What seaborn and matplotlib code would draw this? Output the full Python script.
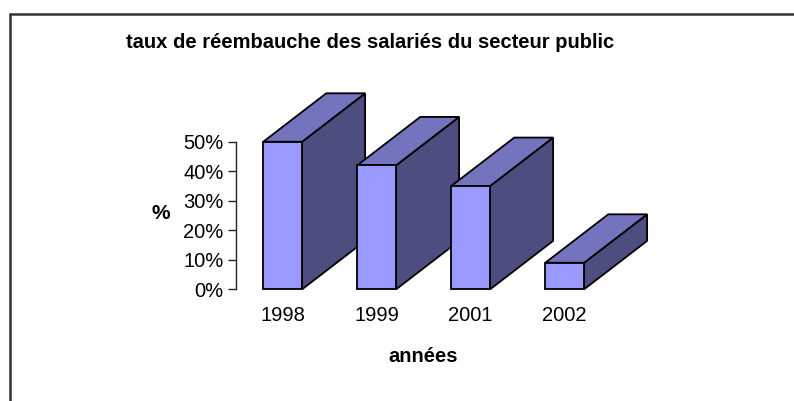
import numpy as np
import matplotlib
matplotlib.use("Agg")
import matplotlib.pyplot as plt
from matplotlib.patches import Polygon
from matplotlib.lines import Line2D
import seaborn as sns

# data
annees = ["1998", "1999", "2001", "2002"]
taux = [50, 42, 35, 9]
yticks = [0, 10, 20, 30, 40, 50]

# colours of the 3d faces
face_front = "#9999FF"
face_top = "#7474BE"
face_side = "#4D4D80"

sns.set_style("white")
plt.rcParams["font.family"] = ["Liberation Sans", "DejaVu Sans"]
plt.rcParams["text.color"] = "black"
plt.rcParams["xtick.color"] = "black"
plt.rcParams["ytick.color"] = "black"

fig = plt.figure(figsize=(7.94, 4.01), dpi=100)
ax = fig.add_axes([236 / 794, 1 - 289.3 / 401, 470 / 794, 147.6 / 401])

sns.barplot(x=annees, y=taux, color=face_front, width=0.413,
            edgecolor="black", linewidth=1.3, saturation=1, ax=ax)

# depth of the fake 3d boxes (in category / % units)
dx = 0.67
dy = 16.4

patches = sorted(ax.patches, key=lambda p: p.get_x())
for i, p in enumerate(patches):
    x0 = p.get_x()
    x1 = x0 + p.get_width()
    h = p.get_height()
    z = 2 + i
    p.set_zorder(z + 0.5)
    p.set_clip_on(False)
    side = Polygon([(x1, 0), (x1 + dx, dy), (x1 + dx, h + dy), (x1, h)],
                   closed=True, facecolor=face_side, edgecolor="black",
                   linewidth=1.3, zorder=z, clip_on=False)
    top = Polygon([(x0, h), (x1, h), (x1 + dx, h + dy), (x0 + dx, h + dy)],
                  closed=True, facecolor=face_top, edgecolor="black",
                  linewidth=1.3, zorder=z, clip_on=False, joinstyle="miter")
    ax.add_patch(side)
    ax.add_patch(top)

ax.set_xlim(-0.497, 4.503)
ax.set_ylim(0, 50)
ax.set_yticks(yticks)
ax.set_yticklabels([f"{v}%" for v in yticks], fontsize=14.5, color="black")
ax.tick_params(axis="y", direction="out", length=6, width=1, pad=3,
               left=True, color="#222222")
ax.tick_params(axis="x", length=0, pad=12, labelsize=14.5, labelcolor="black")
ax.set_xlabel("")
ax.set_ylabel("")
for s in ["top", "right", "bottom"]:
    ax.spines[s].set_visible(False)
ax.spines["left"].set_color("#222222")
ax.spines["left"].set_linewidth(1)
ax.patch.set_alpha(0)

fig.text(370 / 794, 1 - 42 / 401, "taux de réembauche des salariés du secteur public",
         ha="center", va="center", fontsize=14.5, fontweight="bold", color="black")
fig.text(161 / 794, 1 - 214 / 401, "%", ha="center", va="center",
         fontsize=15, fontweight="bold", color="black")
fig.text(423 / 794, 1 - 357 / 401, "années", ha="center", va="center",
         fontsize=14.5, fontweight="bold", color="black")

# chart frame (cut at the right and bottom like the original)
fig.add_artist(Line2D([10 / 794, 1], [1 - 14 / 401, 1 - 14 / 401],
                      color="#333333", linewidth=1.8))
fig.add_artist(Line2D([10 / 794, 10 / 794], [0, 1 - 14 / 401],
                      color="#333333", linewidth=1.8))

fig.savefig("out.png", dpi=100)
